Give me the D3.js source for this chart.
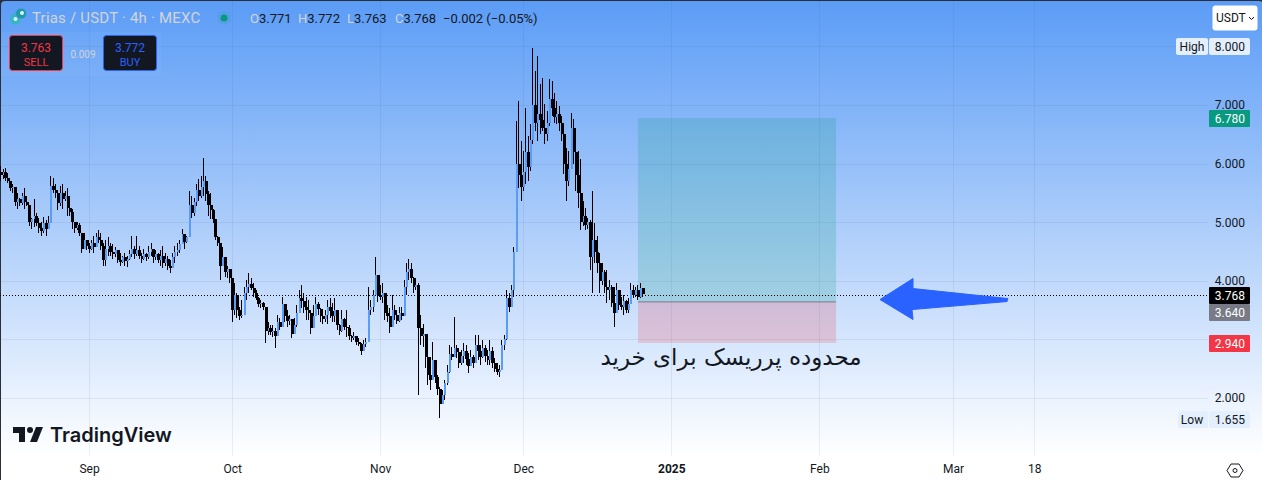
<!DOCTYPE html>
<html>
<head>
<meta charset="utf-8">
<script src="https://cdn.jsdelivr.net/npm/d3@7"></script>
<style>
	html, body { margin: 0; padding: 0; background: #2a2e39; overflow: hidden; }
	svg { display: block; font-family: Roboto, "Noto Sans", sans-serif; }
</style>
</head>
<body>
<svg></svg>
<script>
// 12h bars, first one on 13 Aug 2024 12:00 UTC
const firstOpen = 5.85;
const highs = [
	5.96,5.91,5.93,5.84,5.71,5.66,5.54,5.49,5.42,5.49,
	5.59,5.45,5.16,5.08,5.40,5.15,5.08,5.00,5.09,5.03,
	5.11,5.79,5.76,5.66,5.54,5.62,5.66,5.54,5.59,5.37,
	5.23,5.00,5.00,4.98,4.77,4.81,4.69,4.64,4.69,4.76,
	4.82,4.86,4.81,4.64,4.69,4.74,4.65,4.62,4.58,4.47,
	4.47,4.43,4.47,4.43,4.52,4.77,4.60,4.77,4.60,4.47,
	4.55,4.48,4.60,4.64,4.55,4.52,4.47,4.52,4.60,4.48,
	4.43,4.35,4.47,4.60,4.65,4.69,4.89,4.72,4.77,5.54,
	5.45,5.42,5.66,5.74,5.79,6.10,5.79,5.54,5.49,5.23,
	5.00,4.77,4.64,4.57,4.38,4.26,4.18,3.89,3.96,3.80,
	3.55,3.67,3.89,4.01,4.14,4.04,3.97,3.84,3.72,3.67,
	3.63,3.50,3.29,3.24,3.24,3.19,3.41,3.36,3.72,3.58,
	3.50,3.41,3.33,3.36,3.58,3.84,3.92,3.79,3.72,3.67,
	3.45,3.58,3.72,3.63,3.53,3.41,3.50,3.67,3.70,3.62,
	3.70,3.46,3.27,3.50,3.36,3.50,3.24,3.07,3.12,3.04,
	3.02,2.94,2.99,3.02,3.89,3.67,3.84,4.40,3.92,3.92,
	3.96,3.67,3.58,3.53,3.75,3.58,3.46,3.55,3.55,4.01,
	4.31,4.38,4.31,4.06,4.01,3.96,3.41,3.27,2.99,2.82,
	2.70,2.95,2.48,2.39,2.19,2.14,2.31,2.56,2.90,2.87,
	3.38,2.90,2.76,2.82,2.94,2.90,2.76,2.82,2.73,3.07,
	3.07,2.90,2.99,2.90,2.82,2.99,2.87,2.68,2.60,2.56,
	2.99,3.07,3.84,3.79,3.92,4.57,6.73,7.07,6.39,6.22,
	6.95,6.47,6.68,7.97,7.58,7.83,7.36,7.46,7.02,6.90,
	7.44,7.41,7.20,7.07,6.98,6.81,6.68,6.27,6.22,6.86,
	6.76,6.39,6.22,6.08,5.37,5.25,5.08,5.03,5.54,4.98,
	4.77,4.47,4.31,4.18,4.18,4.01,3.92,3.89,3.97,3.75,
	3.72,3.75,3.67,3.70,3.97,3.92,3.90,3.92,3.96,3.85
];
const lows = [
	5.71,5.74,5.71,5.67,5.54,5.49,5.28,5.23,5.27,5.30,
	5.23,5.27,4.94,4.89,4.91,4.93,4.82,4.77,4.82,4.77,
	4.91,5.25,5.49,5.42,5.20,5.28,5.23,5.37,5.11,5.11,
	4.89,4.82,4.86,4.77,4.48,4.57,4.52,4.48,4.52,4.48,
	4.60,4.65,4.52,4.26,4.26,4.43,4.43,4.38,4.40,4.30,
	4.26,4.30,4.26,4.24,4.35,4.40,4.38,4.43,4.38,4.31,
	4.35,4.33,4.38,4.43,4.31,4.35,4.31,4.26,4.21,4.26,
	4.18,4.14,4.21,4.31,4.43,4.47,4.64,4.55,4.64,5.03,
	5.08,5.11,5.28,5.37,5.42,5.45,5.37,5.11,5.06,4.98,
	4.69,4.60,4.01,4.30,4.06,4.04,3.96,3.29,3.41,3.36,
	3.33,3.36,3.50,3.67,3.80,3.84,3.72,3.67,3.55,3.53,
	3.50,2.94,3.07,3.07,3.04,2.85,3.11,3.16,3.33,3.29,
	3.21,3.24,3.02,3.16,3.21,3.50,3.53,3.45,3.33,3.33,
	3.10,3.29,3.50,3.41,3.29,3.27,3.29,3.27,3.36,3.29,
	3.29,3.16,3.07,3.12,3.16,3.04,2.99,2.95,2.99,2.90,
	2.88,2.73,2.82,2.87,3.04,3.41,3.46,4.01,3.63,3.67,
	3.62,3.33,3.29,3.11,3.29,3.33,3.27,3.29,3.33,3.55,
	3.75,4.01,3.97,3.80,3.84,2.05,2.90,2.87,2.51,2.22,
	2.14,2.36,2.26,2.05,1.66,1.97,1.97,2.22,2.43,2.65,
	2.70,2.68,2.51,2.56,2.60,2.56,2.43,2.56,2.51,2.60,
	2.65,2.56,2.68,2.61,2.56,2.56,2.51,2.44,2.39,2.36,
	2.51,2.82,2.99,3.46,3.58,3.72,4.94,5.59,5.37,5.54,
	5.66,5.71,5.88,6.34,6.56,6.39,6.51,6.56,6.34,6.39,
	6.64,6.81,6.69,6.68,6.56,6.39,5.83,5.37,5.62,6.39,
	6.00,5.54,5.25,4.86,4.94,4.86,4.89,4.18,3.79,4.31,
	4.13,3.79,3.92,3.79,3.62,3.67,3.55,3.21,3.62,3.50,
	3.50,3.41,3.45,3.45,3.67,3.70,3.72,3.67,3.70,3.72
];
const closes = [
	5.80,5.85,5.76,5.70,5.58,5.60,5.35,5.40,5.33,5.44,
	5.35,5.30,5.00,5.05,5.10,4.98,4.90,4.85,4.98,4.88,
	4.98,5.62,5.55,5.50,5.32,5.50,5.40,5.45,5.25,5.18,
	5.00,4.90,4.95,4.82,4.55,4.70,4.60,4.55,4.65,4.58,
	4.75,4.70,4.60,4.35,4.55,4.60,4.50,4.45,4.52,4.36,
	4.32,4.40,4.33,4.38,4.45,4.55,4.45,4.52,4.42,4.38,
	4.45,4.40,4.50,4.55,4.40,4.45,4.35,4.42,4.30,4.38,
	4.25,4.22,4.40,4.50,4.52,4.62,4.80,4.66,4.74,5.30,
	5.15,5.35,5.55,5.45,5.60,5.70,5.48,5.30,5.20,5.05,
	4.75,4.65,4.25,4.40,4.15,4.20,4.05,3.50,3.75,3.50,
	3.40,3.42,3.80,3.90,3.95,3.88,3.80,3.70,3.60,3.62,
	3.55,3.15,3.20,3.12,3.15,3.05,3.30,3.22,3.60,3.40,
	3.32,3.35,3.10,3.25,3.45,3.70,3.65,3.55,3.50,3.45,
	3.20,3.40,3.60,3.52,3.40,3.34,3.42,3.55,3.48,3.40,
	3.50,3.25,3.15,3.35,3.22,3.20,3.05,3.02,3.06,2.96,
	2.92,2.80,2.92,2.96,3.50,3.55,3.75,4.10,3.75,3.72,
	3.80,3.45,3.40,3.22,3.50,3.42,3.32,3.45,3.40,3.90,
	4.15,4.20,4.05,3.90,3.92,3.20,3.05,3.10,2.70,2.40,
	2.30,2.65,2.35,2.15,1.90,2.05,2.25,2.45,2.75,2.70,
	2.85,2.78,2.60,2.72,2.80,2.66,2.55,2.70,2.60,2.90,
	2.80,2.70,2.85,2.72,2.65,2.80,2.60,2.50,2.45,2.48,
	2.90,3.00,3.70,3.55,3.85,4.50,6.00,5.80,5.60,5.85,
	6.20,5.95,6.40,7.00,6.70,6.85,6.75,6.60,6.50,6.70,
	7.10,6.95,6.80,6.85,6.70,6.50,6.00,5.70,5.90,6.60,
	6.20,5.80,5.50,5.00,5.10,4.95,5.00,4.40,4.70,4.50,
	4.30,4.00,4.15,3.90,3.85,3.90,3.62,3.45,3.85,3.58,
	3.55,3.65,3.50,3.60,3.85,3.75,3.85,3.72,3.88,3.768
];

const priceTicks = [2, 4, 5, 6, 7];
const gridPrices = [2, 3, 4, 5, 6, 7, 8];
const timeTicks = [
	new Date(Date.UTC(2024, 8, 1)), new Date(Date.UTC(2024, 9, 1)), new Date(Date.UTC(2024, 10, 1)),
	new Date(Date.UTC(2024, 11, 1)), new Date(Date.UTC(2025, 0, 1)), new Date(Date.UTC(2025, 1, 1)),
	new Date(Date.UTC(2025, 2, 1)), new Date(Date.UTC(2025, 2, 18))
];
const timeLabels = ['Sep', 'Oct', 'Nov', 'Dec', '2025', 'Feb', 'Mar', '18'];

const lastPrice = 3.768, entry = 3.64, target = 6.78, stop = 2.94, high = 8, low = 1.655;
const zoneStart = new Date(Date.UTC(2024, 11, 25)), zoneEnd = new Date(Date.UTC(2025, 1, 4, 12));
const firstBar = Date.UTC(2024, 7, 13, 12);

const width = 1262, height = 480, paneRight = 1208, paneBottom = 456;

const svg = d3.select('svg')
	.attr('width', width)
	.attr('height', height);

const x = d3.scaleUtc()
	.domain([timeTicks[0], timeTicks[6]])
	.range([89, 953]);

const y = d3.scaleLinear()
	.domain([2, 7])
	.range([398, 105]);

const grad = svg.append('defs').append('linearGradient')
	.attr('id', 'bg')
	.attr('gradientUnits', 'userSpaceOnUse')
	.attr('x1', 0).attr('y1', 0).attr('x2', 0).attr('y2', paneBottom);
grad.append('stop').attr('offset', 0).attr('stop-color', '#5b9cf6');
grad.append('stop').attr('offset', 1).attr('stop-color', '#ffffff');

svg.append('rect').attr('width', width).attr('height', height).attr('fill', '#2a2e39');
svg.append('rect')
	.attr('x', 1).attr('y', 1)
	.attr('width', width).attr('height', height)
	.attr('rx', 4)
	.attr('fill', 'url(#bg)');
svg.append('rect')
	.attr('x', 1).attr('y', paneBottom)
	.attr('width', width).attr('height', height - paneBottom)
	.attr('fill', '#fff');

// Grid
const gridColor = 'rgba(60,80,120,0.09)';
svg.append('g').selectAll('line')
	.data(gridPrices)
	.enter().append('line')
	.attr('x1', 0).attr('x2', paneRight)
	.attr('y1', d => Math.round(y(d)) + 0.5)
	.attr('y2', d => Math.round(y(d)) + 0.5)
	.attr('stroke', gridColor);

svg.append('g').selectAll('line')
	.data(timeTicks)
	.enter().append('line')
	.attr('y1', 0).attr('y2', paneBottom)
	.attr('x1', d => Math.round(x(d)) + 0.5)
	.attr('x2', d => Math.round(x(d)) + 0.5)
	.attr('stroke', gridColor);

// Long position tool
svg.append('rect')
	.attr('x', x(zoneStart)).attr('width', x(zoneEnd) - x(zoneStart))
	.attr('y', y(target)).attr('height', y(entry) - y(target))
	.attr('fill', 'rgba(8,153,129,0.2)');
svg.append('rect')
	.attr('x', x(zoneStart)).attr('width', x(zoneEnd) - x(zoneStart))
	.attr('y', y(entry)).attr('height', y(stop) - y(entry))
	.attr('fill', 'rgba(242,54,69,0.2)');
svg.append('line')
	.attr('x1', x(zoneStart)).attr('x2', x(zoneEnd))
	.attr('y1', y(entry)).attr('y2', y(entry))
	.attr('stroke', '#787b86');

// Last price line
svg.append('line')
	.attr('x1', 0).attr('x2', paneRight)
	.attr('y1', 295.5).attr('y2', 295.5)
	.attr('stroke', '#000')
	.attr('stroke-dasharray', '1 2');

// Candles
const bars = closes.map((c, i) => ({
	date: new Date(firstBar + i * 12 * 3600 * 1000),
	high: highs[i],
	low: lows[i],
	close: c,
	open: i ? closes[i - 1] : firstOpen
}));

const candleG = svg.append('g').attr('shape-rendering', 'crispEdges');
candleG.selectAll('line')
	.data(bars)
	.enter().append('line')
	.attr('x1', d => x(d.date))
	.attr('x2', d => x(d.date))
	.attr('y1', d => y(d.high))
	.attr('y2', d => y(d.low))
	.attr('stroke', '#000');
candleG.selectAll('rect')
	.data(bars)
	.enter().append('rect')
	.attr('x', d => x(d.date) - (d.close >= d.open ? 0.5 : 1))
	.attr('width', d => d.close >= d.open ? 2 : 3)
	.attr('y', d => y(Math.max(d.open, d.close)))
	.attr('height', d => Math.max(1, Math.abs(y(d.open) - y(d.close))))
	.attr('fill', d => d.close >= d.open ? '#5b9cf6' : '#000');

// Arrow, drawn around its tip
svg.append('path')
	.attr('transform', `translate(${x(new Date(Date.UTC(2025, 1, 13, 17)))},${y(3.68)})`)
	.attr('d', 'M0,0 L33,-21 L33,-11 L128,-1 L127,2 L32,10 L33,20 Z')
	.attr('fill', '#2962ff')
	.attr('stroke', '#2962ff')
	.attr('stroke-linejoin', 'round');

// Note
svg.append('text')
	.attr('x', 731).attr('y', 365)
	.attr('text-anchor', 'middle')
	.attr('direction', 'rtl')
	.attr('font-family', '"DejaVu Sans"')
	.attr('font-size', 23)
	.attr('fill', '#131722')
	.text('محدوده پرریسک برای خرید');

// Price axis
const yAxis = d3.axisRight(y)
	.tickValues(priceTicks)
	.tickSize(0)
	.tickPadding(0)
	.tickFormat(d3.format('.3f'));
const yAxisG = svg.append('g')
	.attr('transform', 'translate(1245,0)')
	.call(yAxis);
yAxisG.select('.domain').remove();
yAxisG.selectAll('text')
	.attr('text-anchor', 'end')
	.attr('font-family', 'Roboto')
	.attr('font-size', 12)
	.attr('fill', '#131722');

const tags = [
	{ text: '6.780', top: 110, fill: '#089981' },
	{ text: '3.768', top: 287, fill: '#000' },
	{ text: '3.640', top: 304, fill: '#787b86' },
	{ text: '2.940', top: 335, fill: '#f23645' }
];
const tagG = svg.append('g').selectAll('g')
	.data(tags)
	.enter().append('g')
	.attr('transform', d => `translate(1209,${d.top})`);
tagG.append('rect')
	.attr('width', 41).attr('height', 17).attr('rx', 1)
	.attr('fill', d => d.fill);
tagG.append('text')
	.attr('x', 36).attr('y', 13)
	.attr('text-anchor', 'end')
	.attr('font-size', 12)
	.attr('fill', '#fff')
	.text(d => d.text);

const extremes = [
	{ name: 'High', value: d3.format('.3f')(high), top: 38, left: 1176 },
	{ name: 'Low', value: d3.format('.3f')(low), top: 411, left: 1178 }
];
const extG = svg.append('g').selectAll('g')
	.data(extremes)
	.enter().append('g')
	.attr('transform', d => `translate(0,${d.top})`);
extG.append('rect')
	.attr('x', d => d.left).attr('width', d => 1208 - d.left)
	.attr('height', 17).attr('rx', 2)
	.attr('fill', '#e3effd');
extG.append('rect')
	.attr('x', 1209).attr('width', 41)
	.attr('height', 17).attr('rx', 2)
	.attr('fill', '#e3effd');
extG.append('text')
	.attr('x', 1192).attr('y', 13)
	.attr('text-anchor', 'middle')
	.attr('font-size', 12)
	.attr('fill', '#131722')
	.text(d => d.name);
extG.append('text')
	.attr('x', 1245).attr('y', 13)
	.attr('text-anchor', 'end')
	.attr('font-size', 12)
	.attr('fill', '#131722')
	.text(d => d.value);

// Time axis
const xAxis = d3.axisBottom(x)
	.tickValues(timeTicks)
	.tickSize(0)
	.tickPadding(0)
	.tickFormat((d, i) => timeLabels[i]);
const xAxisG = svg.append('g')
	.attr('transform', 'translate(0,464)')
	.call(xAxis);
xAxisG.select('.domain').remove();
xAxisG.selectAll('text')
	.attr('font-family', 'Roboto')
	.attr('font-size', 12)
	.attr('fill', '#131722')
	.attr('font-weight', (d, i) => timeLabels[i] === '2025' ? 700 : 400);

// Header
const coin = svg.append('g').attr('transform', 'translate(10,8)');
coin.append('circle').attr('cx', 5.5).attr('cy', 11).attr('r', 5.5).attr('fill', '#35b6c2');
coin.append('circle').attr('cx', 11).attr('cy', 5.5).attr('r', 5.5).attr('fill', '#1f9aa6').attr('stroke', '#5b9cf6');
coin.append('circle').attr('cx', 5.5).attr('cy', 11).attr('r', 2).attr('fill', '#d8f2f4');
coin.append('circle').attr('cx', 12).attr('cy', 5).attr('r', 2).attr('fill', '#d8f2f4');

svg.append('text')
	.attr('x', 32).attr('y', 23)
	.attr('font-size', 15)
	.attr('letter-spacing', 0.2)
	.attr('fill', '#d1d4dc')
	.text('Trias / USDT · 4h · MEXC');

svg.append('circle').attr('cx', 224).attr('cy', 18).attr('r', 7).attr('fill', 'rgba(8,153,129,0.12)');
svg.append('circle').attr('cx', 224).attr('cy', 18).attr('r', 3.5).attr('fill', '#089981');

const ohlc = [
	{ key: 'O', val: '3.771', at: 250 },
	{ key: 'H', val: '3.772', at: 298 },
	{ key: 'L', val: '3.763', at: 347 },
	{ key: 'C', val: '3.768', at: 395 }
];
const ohlcT = svg.append('g').selectAll('text')
	.data(ohlc)
	.enter().append('text')
	.attr('x', d => d.at).attr('y', 23)
	.attr('font-size', 13);
ohlcT.append('tspan').attr('fill', '#d1d4dc').text(d => d.key);
ohlcT.append('tspan').attr('fill', '#131722').text(d => d.val);
svg.append('text')
	.attr('x', 443).attr('y', 23)
	.attr('font-size', 13)
	.attr('fill', '#131722')
	.text('−0.002 (−0.05%)');

// Buy / sell buttons
svg.append('rect')
	.attr('x', 1).attr('y', 32).attr('width', 160).attr('height', 44)
	.attr('fill', 'rgba(255,255,255,0.04)');
const buttons = [
	{ left: 9.5, price: '3.763', side: 'SELL', color: '#f23645' },
	{ left: 103.5, price: '3.772', side: 'BUY', color: '#2962ff' }
];
const btn = svg.append('g').selectAll('g')
	.data(buttons)
	.enter().append('g')
	.attr('transform', d => `translate(${d.left},35.5)`);
btn.append('rect')
	.attr('width', 53).attr('height', 35).attr('rx', 3)
	.attr('fill', '#131722')
	.attr('stroke', d => d.color);
btn.append('text')
	.attr('x', 26.5).attr('y', 16)
	.attr('text-anchor', 'middle')
	.attr('font-size', 12)
	.attr('fill', d => d.color)
	.text(d => d.price);
btn.append('text')
	.attr('x', 26.5).attr('y', 30)
	.attr('text-anchor', 'middle')
	.attr('font-size', 11)
	.attr('fill', d => d.color)
	.text(d => d.side);
svg.append('text')
	.attr('x', 83).attr('y', 58)
	.attr('text-anchor', 'middle')
	.attr('font-size', 10)
	.attr('fill', '#d1d4dc')
	.text('0.009');

// Currency button
svg.append('rect')
	.attr('x', 1212.5).attr('y', 5.5).attr('width', 45).attr('height', 25).attr('rx', 3)
	.attr('fill', '#fff');
svg.append('text')
	.attr('x', 1216).attr('y', 22)
	.attr('font-size', 12)
	.attr('fill', '#131722')
	.text('USDT');
svg.append('path')
	.attr('d', 'M1249,17 l2.5,2.5 l2.5,-2.5')
	.attr('fill', 'none')
	.attr('stroke', '#131722');

// Logo
svg.append('path')
	.attr('transform', 'translate(11,421)')
	.attr('d', 'M14 6H2v6h6v9h6V6Zm12 15h-7l6-15h7l-6 15Zm-7-9a3 3 0 1 0 0-6 3 3 0 0 0 0 6Z')
	.attr('fill', '#131722');
svg.append('text')
	.attr('x', 50).attr('y', 442)
	.attr('font-family', 'Inter')
	.attr('font-weight', 600)
	.attr('font-size', 20)
	.attr('fill', '#131722')
	.text('TradingView');

// Settings icon
svg.append('path')
	.attr('d', 'M1231,464 h8 l4,6.5 l-4,6.5 h-8 l-4,-6.5 Z')
	.attr('fill', 'none')
	.attr('stroke', '#131722');
svg.append('circle')
	.attr('cx', 1235).attr('cy', 470.5).attr('r', 2)
	.attr('fill', 'none')
	.attr('stroke', '#131722');
</script>
</body>
</html>
